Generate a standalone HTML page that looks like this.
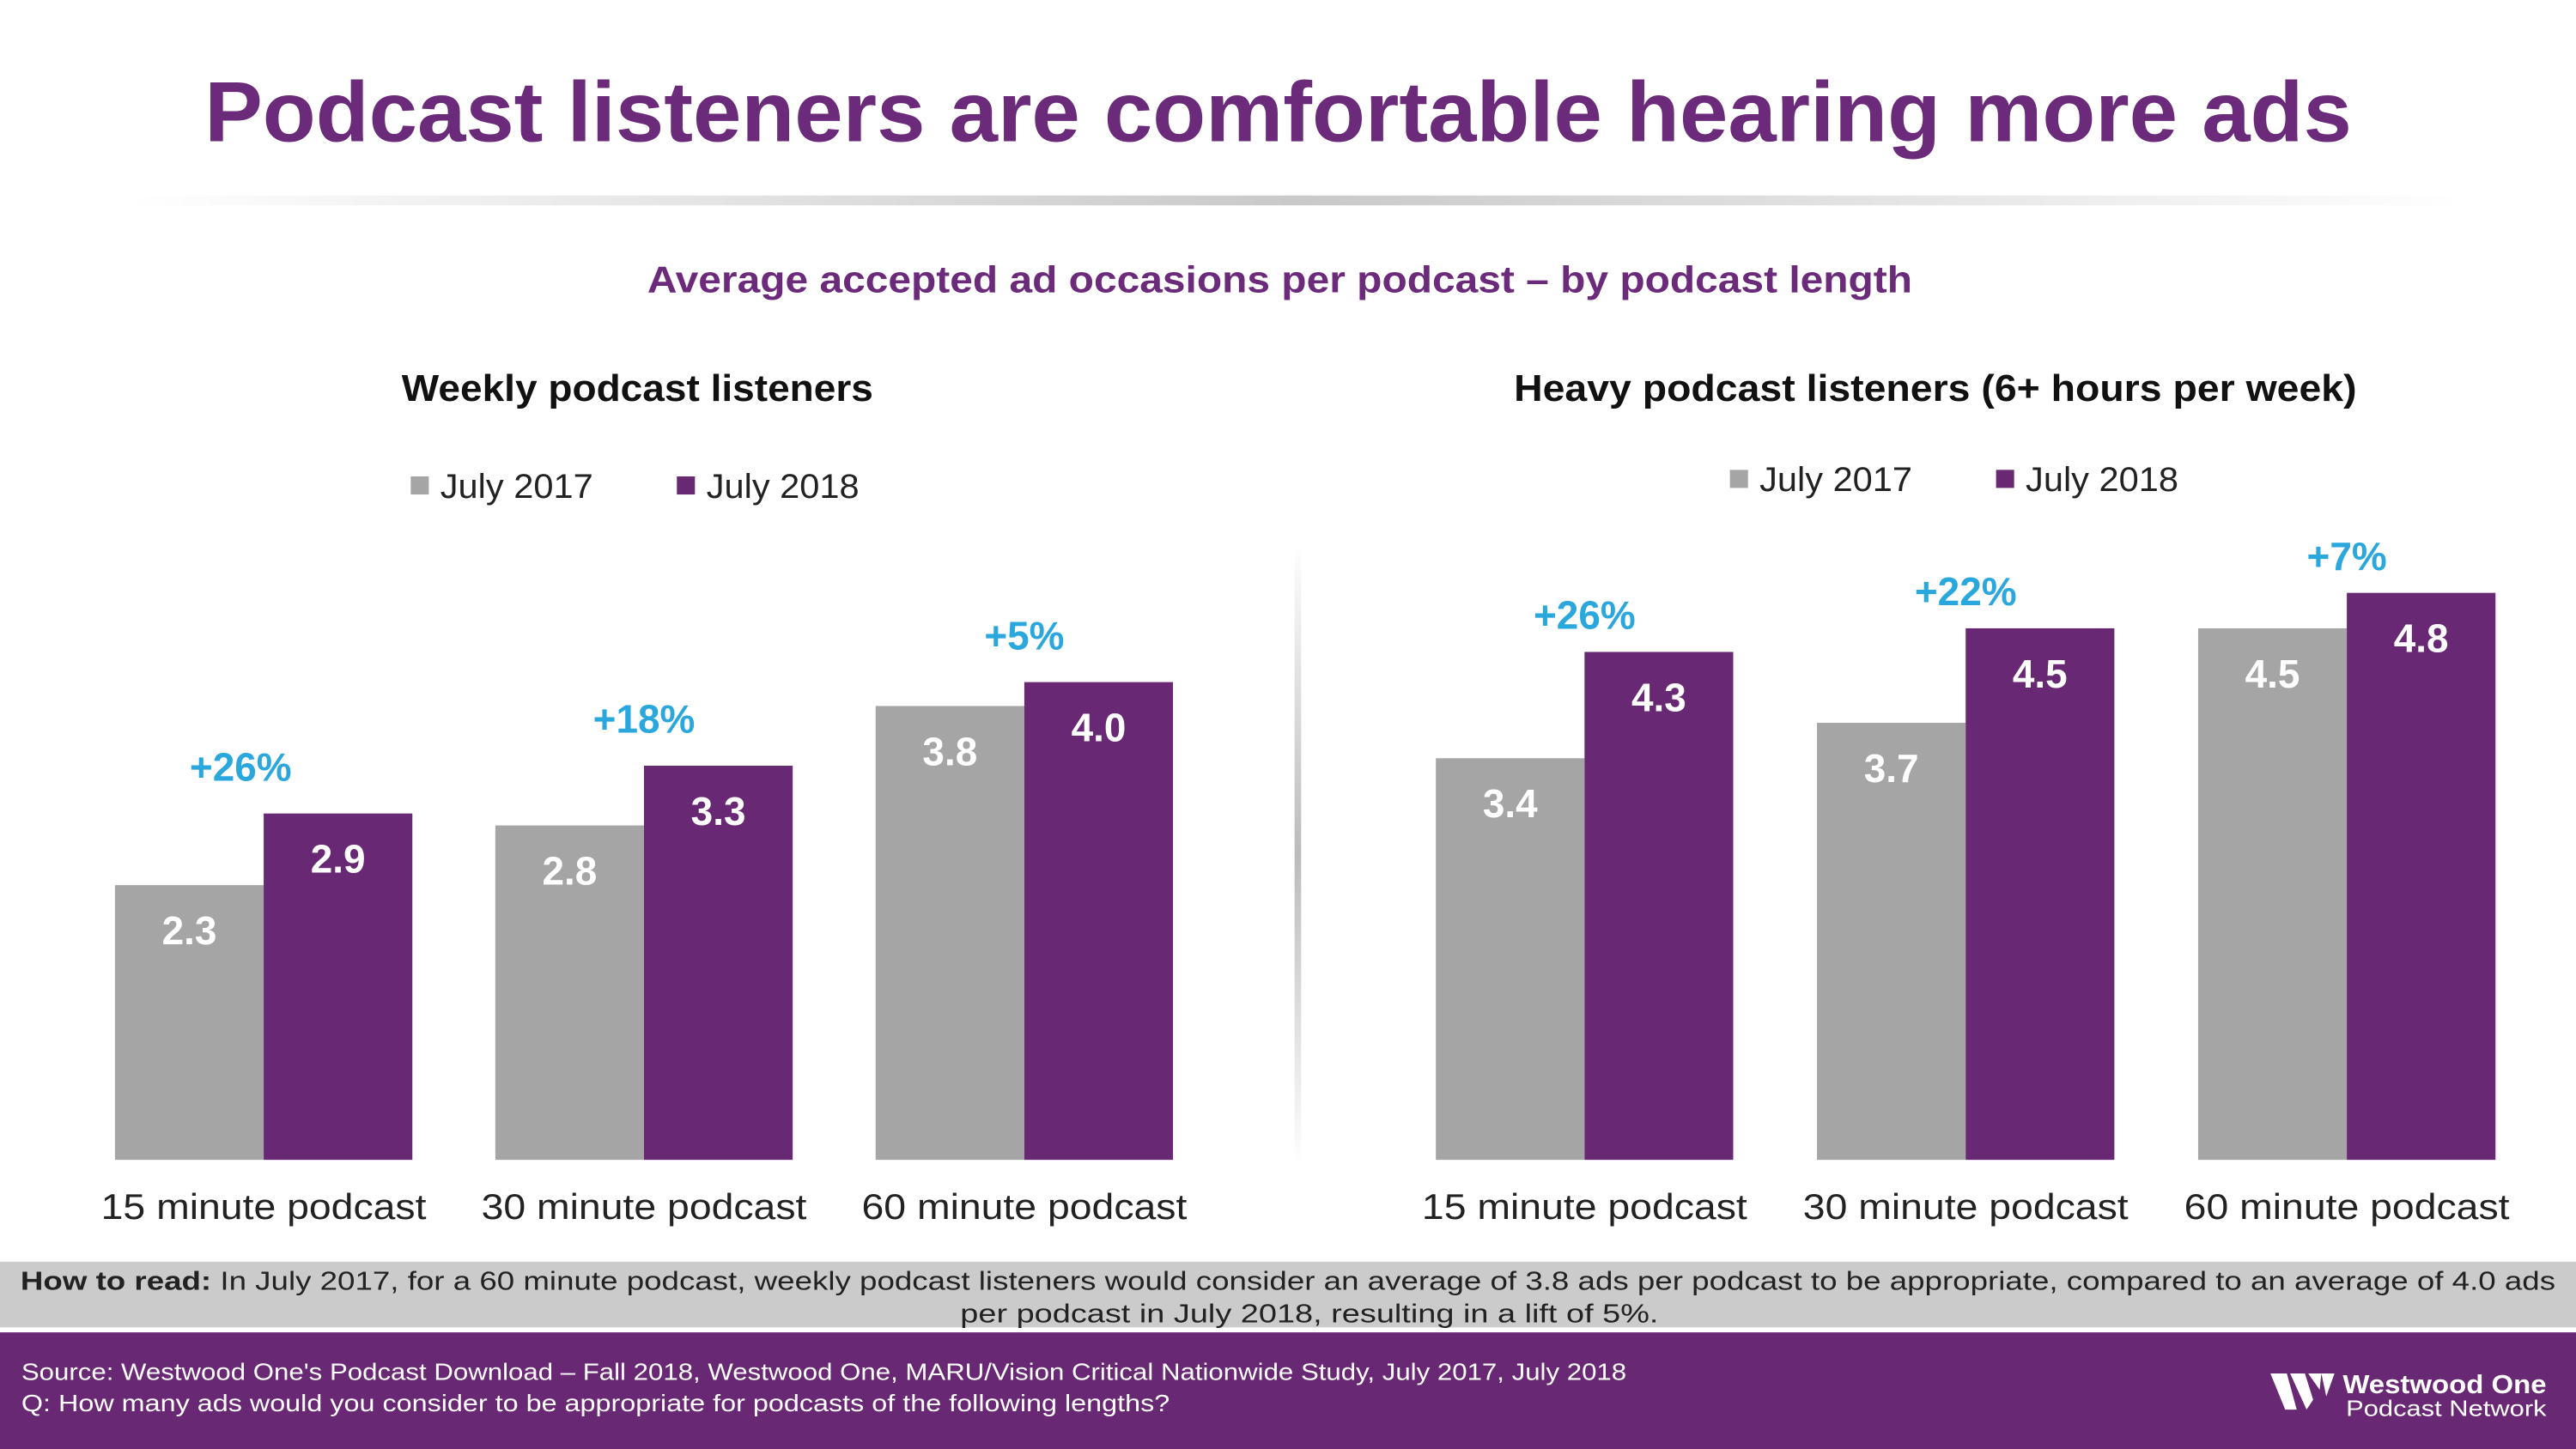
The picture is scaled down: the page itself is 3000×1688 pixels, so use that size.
<!DOCTYPE html>
<html><head><meta charset="utf-8"><style>
html,body{margin:0;padding:0;background:#fff}
svg{display:block}
text{font-family:"Liberation Sans",sans-serif}
</style></head><body>
<svg id="chart" width="3000" height="1688" viewBox="0 0 1568 882" preserveAspectRatio="none" xmlns="http://www.w3.org/2000/svg">
<defs>
<linearGradient id="shadowH" x1="0" x2="1" y1="0" y2="0">
<stop offset="0" stop-color="#fff"/><stop offset="0.5" stop-color="#bbb"/><stop offset="1" stop-color="#fff"/>
</linearGradient>
<linearGradient id="shadowV" x1="0" x2="0" y1="0" y2="1">
<stop offset="0" stop-color="#fff"/><stop offset="0.5" stop-color="#bbb"/><stop offset="1" stop-color="#fff"/>
</linearGradient>
</defs>
<text x="778" y="86" text-anchor="middle" font-size="52" font-weight="bold" fill="#6b2a7a" textLength="1307" lengthAdjust="spacingAndGlyphs">Podcast listeners are comfortable hearing more ads</text>
<rect x="80" y="119" width="1420" height="6" fill="url(#shadowH)" opacity="0.8"/>
<text x="779" y="178" text-anchor="middle" font-size="23" font-weight="bold" fill="#6b2a7a" textLength="770" lengthAdjust="spacingAndGlyphs">Average accepted ad occasions per podcast – by podcast length</text>
<rect x="788" y="330" width="4" height="380" fill="url(#shadowV)"/>
<g id="charts"></g>
<rect x="0" y="768" width="1568" height="40" fill="#cbcbcb"/>
<text x="784" y="785" text-anchor="middle" font-size="16" fill="#222" textLength="1543" lengthAdjust="spacingAndGlyphs"><tspan font-weight="bold">How to read:</tspan> In July 2017, for a 60 minute podcast, weekly podcast listeners would consider an average of 3.8 ads per podcast to be appropriate, compared to an average of 4.0 ads</text>
<text x="797" y="805" text-anchor="middle" font-size="16" fill="#222" textLength="425" lengthAdjust="spacingAndGlyphs">per podcast in July 2018, resulting in a lift of 5%.</text>
<rect x="0" y="811" width="1568" height="71" fill="#692873"/>
<text x="13" y="840" font-size="14.5" fill="#fff" textLength="977" lengthAdjust="spacingAndGlyphs">Source: Westwood One's Podcast Download – Fall 2018, Westwood One, MARU/Vision Critical Nationwide Study, July 2017, July 2018</text>
<text x="13" y="859" font-size="14.5" fill="#fff" textLength="699" lengthAdjust="spacingAndGlyphs">Q: How many ads would you consider to be appropriate for podcasts of the following lengths?</text>
<g>
<path d="M1382 836 L1392 836 L1398 858 L1391 858 Z M1394 836 L1403 836 L1408 852 L1404 858 Z M1405 836 L1413 836 L1412 846 Z M1413 836 L1421 836 L1416 850 Z" fill="#fff"/>
<text x="1426" y="848" font-size="16" font-weight="bold" fill="#fff" textLength="124" lengthAdjust="spacingAndGlyphs">Westwood One</text>
<text x="1428" y="862" font-size="13.5" fill="#fff" textLength="122" lengthAdjust="spacingAndGlyphs">Podcast Network</text>
</g>
</svg>
<script>
const categories = ["15 minute podcast","30 minute podcast","60 minute podcast"];
const weekly2017 = [2.3, 2.8, 3.8];
const weekly2018 = [2.9, 3.3, 4.0];
const weeklyLift = ["+26%","+18%","+5%"];
const heavy2017 = [3.4, 3.7, 4.5];
const heavy2018 = [4.3, 4.5, 4.8];
const heavyLift = ["+26%","+22%","+7%"];
const seriesNames = ["July 2017","July 2018"];

const NS = "http://www.w3.org/2000/svg";
const root = document.getElementById("charts");
function mk(tag, attrs, txt){
  const e = document.createElementNS(NS, tag);
  for (const k in attrs) e.setAttribute(k, attrs[k]);
  if (txt !== undefined) e.textContent = txt;
  root.appendChild(e);
  return e;
}
function drawChart(cfg, a, b, lift){
  const base = 706;
  const y = v => base - v * cfg.scale;
  const t = mk("text", {x: cfg.titleX, y: cfg.titleY, "text-anchor":"middle", "font-size":23, "font-weight":"bold", fill:"#111", textLength: cfg.titleW, lengthAdjust:"spacingAndGlyphs"}, cfg.title);
  
  
  [0,1].forEach(i => {
    const lx = cfg.legendX[i];
    const sq = mk("rect", {x: lx, y: cfg.legendY - 13, width: 11, height: 11, fill: i ? "#692873" : "#a5a5a5"});
    
    
    const lt = mk("text", {x: lx + 18, y: cfg.legendY, "font-size":21, fill:"#222", textLength: 93, lengthAdjust:"spacingAndGlyphs"}, seriesNames[i]);
    
    
  });
  categories.forEach((c, i) => {
    const gx = cfg.x0 + i * cfg.step;
    const w = 90.5;
    const r1 = mk("rect", {x: gx, y: y(a[i]), width: w, height: a[i]*cfg.scale, fill:"#a5a5a5"});
    
    
    const r2 = mk("rect", {x: gx + w, y: y(b[i]), width: w, height: b[i]*cfg.scale, fill:"#692873"});
    
    
    const v1 = mk("text", {x: gx + w/2, y: y(a[i]) + 36, "text-anchor":"middle", "font-size":24, "font-weight":"bold", fill:"#fff"}, a[i].toFixed(1));
    
    
    const v2 = mk("text", {x: gx + w*1.5, y: y(b[i]) + 36, "text-anchor":"middle", "font-size":24, "font-weight":"bold", fill:"#fff"}, b[i].toFixed(1));
    
    
    const l = mk("text", {x: gx + w + (i === 0 && cfg.prefix === "weekly" ? -14 : 0), y: y(b[i]) - cfg.liftGap, "text-anchor":"middle", "font-size":24, "font-weight":"bold", fill:"#2aa7dc"}, lift[i]);
    
    
    const cl = mk("text", {x: gx + w, y: 742, "text-anchor":"middle", "font-size":22, fill:"#222", textLength: 198, lengthAdjust:"spacingAndGlyphs"}, c);
    
    
  });
}
drawChart({prefix:"weekly", title:"Weekly podcast listeners", titleX:388, titleY:244, titleW:287, legendX:[250,412], legendY:303, x0:70, step:231.5, scale:72.7, liftGap:20}, weekly2017, weekly2018, weeklyLift);
drawChart({prefix:"heavy", title:"Heavy podcast listeners (6+ hours per week)", titleX:1178, titleY:244, titleW:513, legendX:[1053,1215], legendY:299, x0:874, step:232, scale:71.9, liftGap:14}, heavy2017, heavy2018, heavyLift);
</script>
</body></html>
